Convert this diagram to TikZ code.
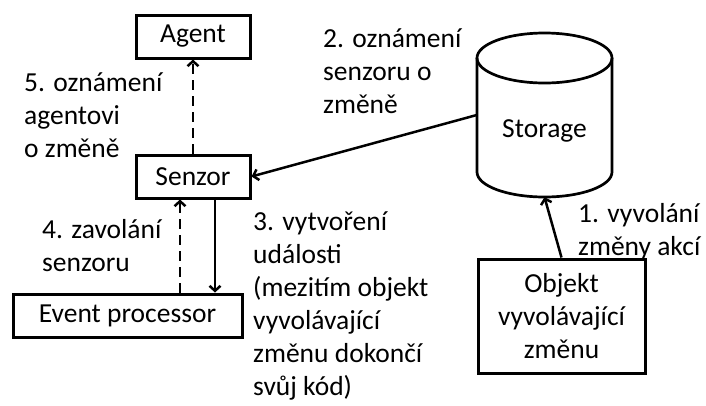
\documentclass[tikz,border=0pt]{standalone}
\usepackage{fontspec}
\setmainfont{Carlito}
\usetikzlibrary{arrows.meta}
\begin{document}
\begin{tikzpicture}[x=1pt,y=-1pt,
  every node/.style={font=\fontsize{27.5}{33}\selectfont, inner sep=0pt},
  box/.style={draw, line width=3pt, rectangle, align=center},
  lbl/.style={anchor=base west, align=left},
  conn/.style={line width=2.5pt, -{Straight Barb[length=5pt,width=11pt,line width=2.5pt]}},
  dconn/.style={conn, dash pattern=on 10pt off 6pt}]
\useasboundingbox (0,0) rectangle (706,405);

% boxes
\node[box, minimum width=114pt, minimum height=43pt] (agent) at (193,36.5) {Agent};
\node[box, minimum width=114pt, minimum height=43pt] (senzor) at (193,176.5) {Senzor};
\node[box, minimum width=229pt, minimum height=43pt] (event) at (127.5,315.5) {Event processor};
\node[box, minimum width=167pt, minimum height=114pt] (objekt) at (561.5,316) {Objekt\\vyvolávající\\změnu};

% storage cylinder
\node[minimum width=135pt, minimum height=164pt] (storage) at (544.5,115) {};
\node[anchor=base] at (544.5,137) {Storage};
\draw[line width=2.7pt, line join=round]
  (477,58) -- (477,172) arc[start angle=180, end angle=0, x radius=67.5, y radius=25]
  -- (612,58);
\draw[line width=2.7pt] (544.5,58) ellipse[x radius=67.5, y radius=25];

% connectors
\draw[dconn] (senzor.north) -- (agent.south);
\draw[conn] (storage.west) -- (senzor.east);
\draw[conn] (senzor.south -| 215,0) -- (event.north -| 215,0);
\draw[dconn] (event.north -| 180,0) -- (senzor.south -| 180,0);
\draw[conn] (objekt.north) -- (storage.south);

% labels (anchored at the baseline of their last line)
\node[lbl] (l5) at (24,157) {5. oznámení\\agentovi\\o změně};
\node[lbl] (l2) at (323,113) {2. oznámení\\senzoru o\\změně};
\node[lbl] (l3) at (253,395) {3. vytvoření\\události\\(mezitím objekt\\vyvolávající\\změnu dokončí\\svůj kód)};
\node[lbl] (l4) at (42,271) {4. zavolání\\senzoru};
\node[lbl] (l1) at (578,255) {1. vyvolání\\změny akcí};
\end{tikzpicture}
\end{document}
